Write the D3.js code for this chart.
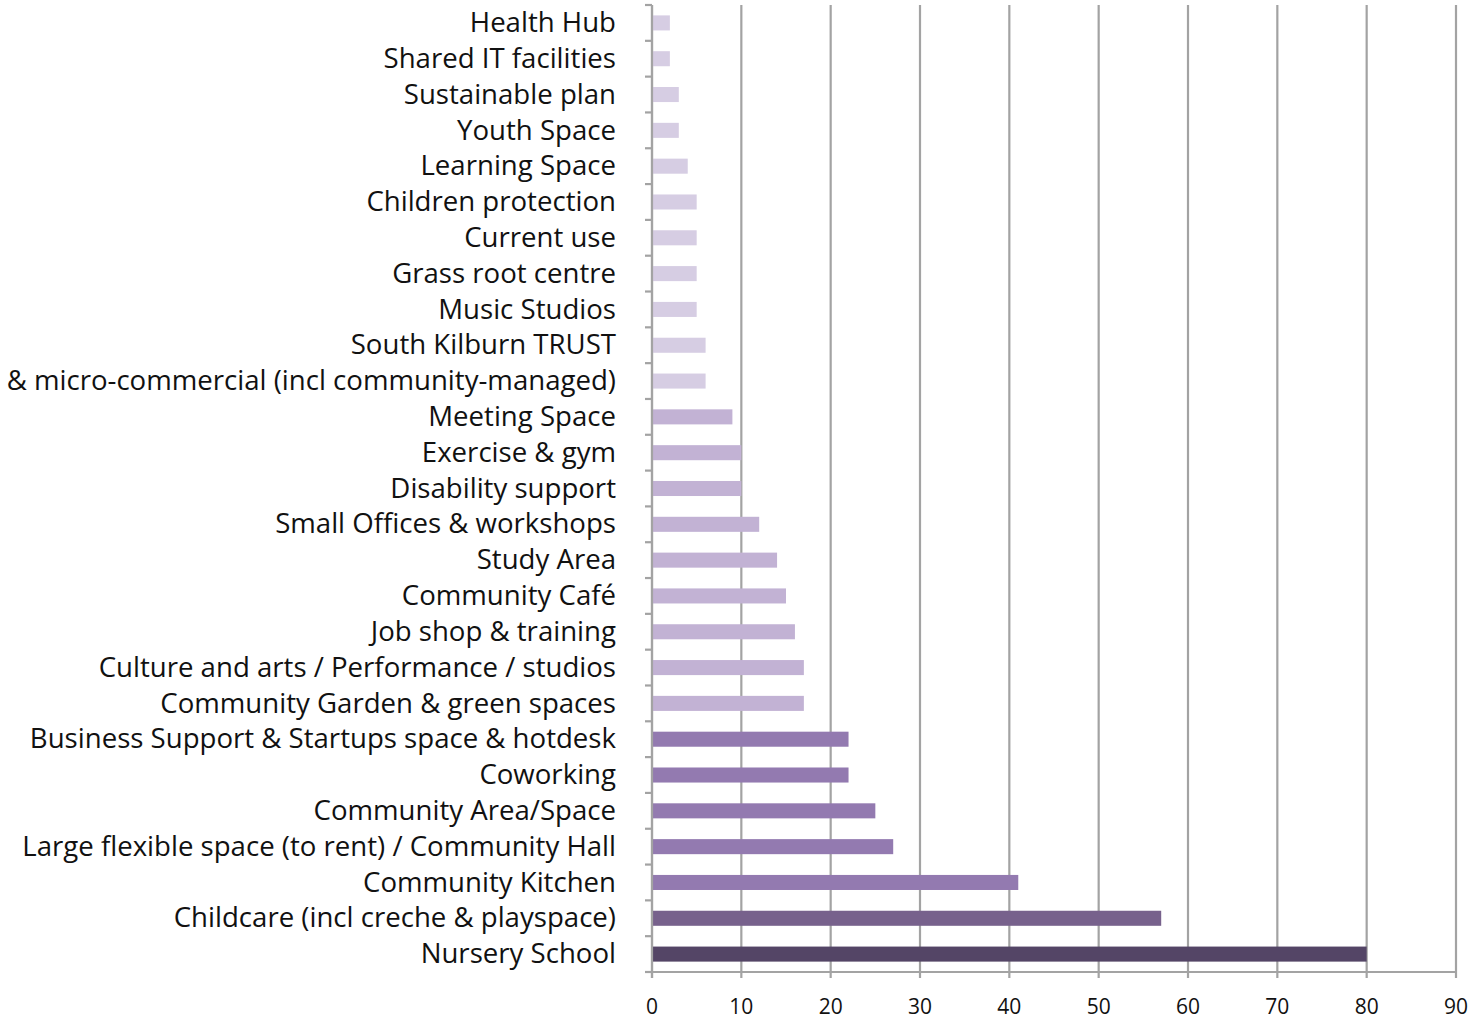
<!DOCTYPE html>
<html>
<head>
<meta charset="utf-8">
<script src="https://cdn.jsdelivr.net/npm/d3@7"></script>
<style>
  html, body { margin: 0; padding: 0; background: #fff; }
  svg { display: block; }
</style>
</head>
<body>
<svg id="chart" width="1476" height="1021"></svg>
<script>
// Requested facilities, top to bottom
const categories = [
  "Health Hub",
  "Shared IT facilities",
  "Sustainable plan",
  "Youth Space",
  "Learning Space",
  "Children protection",
  "Current use",
  "Grass root centre",
  "Music Studios",
  "South Kilburn TRUST",
  "& micro-commercial (incl community-managed)",
  "Meeting Space",
  "Exercise & gym",
  "Disability support",
  "Small Offices & workshops",
  "Study Area",
  "Community Café",
  "Job shop & training",
  "Culture and arts / Performance / studios",
  "Community Garden & green spaces",
  "Business Support & Startups space & hotdesk",
  "Coworking",
  "Community Area/Space",
  "Large flexible space (to rent) / Community Hall",
  "Community Kitchen",
  "Childcare (incl creche & playspace)",
  "Nursery School"
];
const values = [2, 2, 3, 3, 4, 5, 5, 5, 5, 6, 6, 9, 10, 10, 12, 14, 15, 16, 17, 17, 22, 22, 25, 27, 41, 57, 80];
// colour group per bar (0 = lightest … 4 = darkest)
const shadeGroup = [0,0,0,0,0,0,0,0,0,0,0, 1,1,1,1,1,1,1,1,1, 2,2,2,2,2, 3, 4];
const shades = ["#d6cde3", "#c2b2d4", "#937ab0", "#77618c", "#544566"];
const xTicks = [0, 10, 20, 30, 40, 50, 60, 70, 80, 90];

const svg = d3.select("#chart");
const plotLeft = 652, plotRight = 1456, plotTop = 5, plotBottom = 972;

const x = d3.scaleLinear().domain([0, 90]).range([plotLeft, plotRight]);
const y = d3.scaleBand().domain(categories).range([plotTop, plotBottom]).paddingInner(0.58).paddingOuter(0.29);

// vertical gridlines (extend below the axis as tick marks)
svg.append("g").selectAll("line").data(xTicks).join("line")
  .attr("x1", d => x(d)).attr("x2", d => x(d))
  .attr("y1", plotTop).attr("y2", plotBottom + 6)
  .attr("stroke", "#a3a3a3").attr("stroke-width", 2.2);

// bars
svg.append("g").selectAll("rect").data(categories).join("rect")
  .attr("x", x(0) + 1)
  .attr("y", d => y(d))
  .attr("width", (d, i) => x(values[i]) - x(0) - 1)
  .attr("height", y.bandwidth())
  .attr("fill", (d, i) => shades[shadeGroup[i]]);

// category axis line and band ticks
const bandEdges = d3.range(categories.length + 1).map(i => plotTop + i * (plotBottom - plotTop) / categories.length);
svg.append("line")
  .attr("x1", plotLeft).attr("x2", plotLeft).attr("y1", plotTop).attr("y2", plotBottom + 6)
  .attr("stroke", "#a3a3a3").attr("stroke-width", 2.2);
svg.append("g").selectAll("line").data(bandEdges).join("line")
  .attr("x1", plotLeft - 7).attr("x2", plotLeft)
  .attr("y1", d => d).attr("y2", d => d)
  .attr("stroke", "#a3a3a3").attr("stroke-width", 2.2);

// value axis line
svg.append("line")
  .attr("x1", plotLeft - 7).attr("x2", plotRight).attr("y1", plotBottom).attr("y2", plotBottom)
  .attr("stroke", "#a3a3a3").attr("stroke-width", 2.2);

// category labels
svg.append("g").selectAll("text").data(categories).join("text")
  .attr("x", 616)
  .attr("y", d => y(d) + y.bandwidth() / 2 - 0.5)
  .attr("dy", "0.35em")
  .attr("text-anchor", "end")
  .attr("font-family", "'Open Sans', 'Noto Sans', sans-serif")
  .attr("font-size", 27.6)
  .attr("fill", "#111")
  .text(d => d);

// value tick labels
svg.append("g").selectAll("text").data(xTicks).join("text")
  .attr("x", d => x(d))
  .attr("y", 1014)
  .attr("text-anchor", "middle")
  .attr("font-family", "'Open Sans', 'Noto Sans', sans-serif")
  .attr("font-size", 21)
  .attr("fill", "#111")
  .text(d => d);
</script>
</body>
</html>
